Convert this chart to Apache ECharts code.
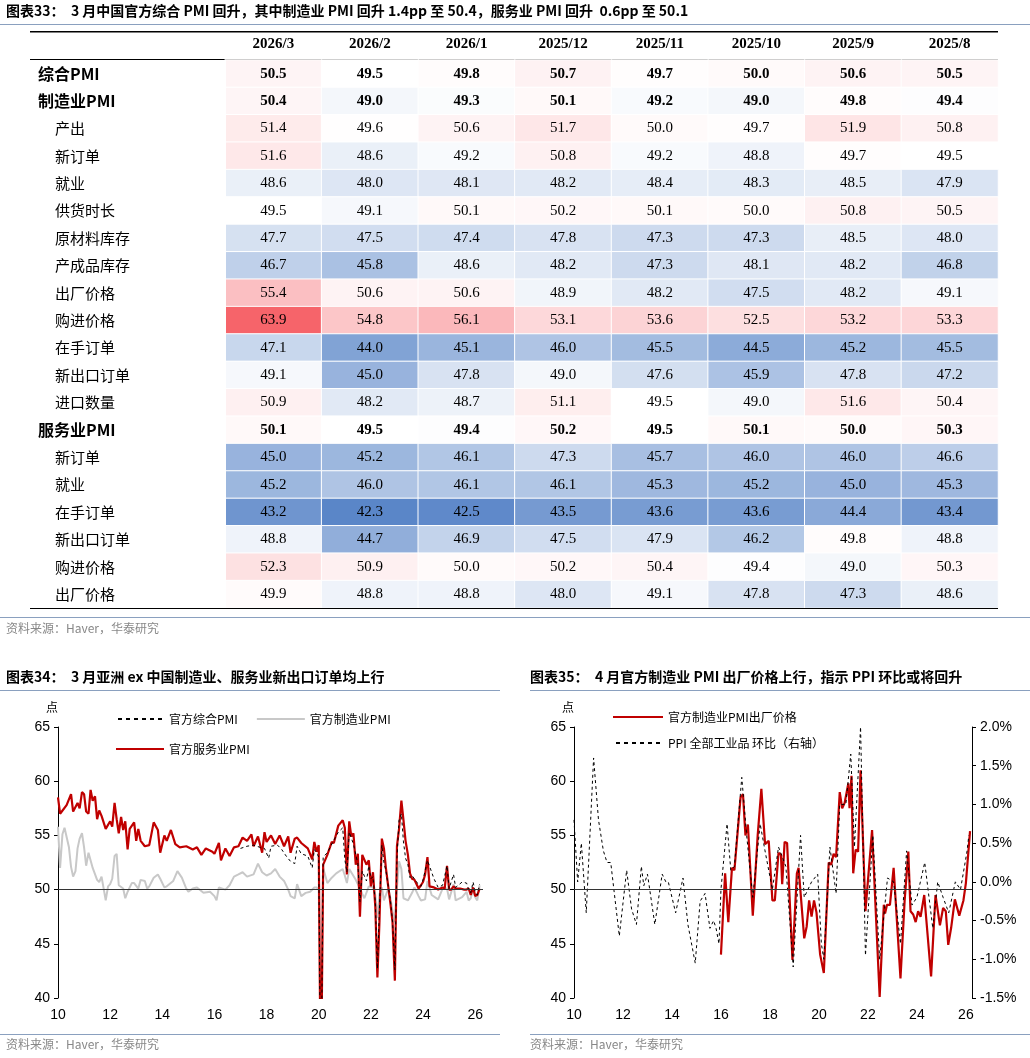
<!DOCTYPE html>
<html><head><meta charset="utf-8">
<script src="https://cdn.jsdelivr.net/npm/echarts@6/dist/echarts.min.js"></script>
<style>body{margin:0;background:#fff}#c{width:1030px;height:1058px}</style></head>
<body><div id="c"></div>
<script>
const columns=['2026/3','2026/2','2026/1','2025/12','2025/11','2025/10','2025/9','2025/8'];
const rowNames=['综合PMI','制造业PMI','产出','新订单','就业','供货时长','原材料库存','产成品库存','出厂价格','购进价格','在手订单','新出口订单','进口数量','服务业PMI','新订单','就业','在手订单','新出口订单','购进价格','出厂价格'];
const boldRows=[0,1,13];
const tableValues=[
[50.5,49.5,49.8,50.7,49.7,50.0,50.6,50.5],
[50.4,49.0,49.3,50.1,49.2,49.0,49.8,49.4],
[51.4,49.6,50.6,51.7,50.0,49.7,51.9,50.8],
[51.6,48.6,49.2,50.8,49.2,48.8,49.7,49.5],
[48.6,48.0,48.1,48.2,48.4,48.3,48.5,47.9],
[49.5,49.1,50.1,50.2,50.1,50.0,50.8,50.5],
[47.7,47.5,47.4,47.8,47.3,47.3,48.5,48.0],
[46.7,45.8,48.6,48.2,47.3,48.1,48.2,46.8],
[55.4,50.6,50.6,48.9,48.2,47.5,48.2,49.1],
[63.9,54.8,56.1,53.1,53.6,52.5,53.2,53.3],
[47.1,44.0,45.1,46.0,45.5,44.5,45.2,45.5],
[49.1,45.0,47.8,49.0,47.6,45.9,47.8,47.2],
[50.9,48.2,48.7,51.1,49.5,49.0,51.6,50.4],
[50.1,49.5,49.4,50.2,49.5,50.1,50.0,50.3],
[45.0,45.2,46.1,47.3,45.7,46.0,46.0,46.6],
[45.2,46.0,46.1,46.1,45.3,45.2,45.0,45.3],
[43.2,42.3,42.5,43.5,43.6,43.6,44.4,43.4],
[48.8,44.7,46.9,47.5,47.9,46.2,49.8,48.8],
[52.3,50.9,50.0,50.2,50.4,49.4,49.0,50.3],
[49.9,48.8,48.8,48.0,49.1,47.8,47.3,48.6]];

const servicesPMI=[[2010.0,58.5],[2010.08,57.0],[2010.33,57.8],[2010.5,58.8],[2010.58,57.2],[2010.75,58.0],[2010.83,57.5],[2010.92,59.0],[2011.0,58.8],[2011.08,57.2],[2011.17,57.0],[2011.25,59.2],[2011.33,58.2],[2011.42,58.6],[2011.5,56.5],[2011.58,57.3],[2011.67,56.8],[2011.83,55.6],[2012.0,56.3],[2012.08,55.8],[2012.17,58.0],[2012.25,56.5],[2012.33,55.2],[2012.42,56.7],[2012.5,55.5],[2012.58,56.3],[2012.67,53.7],[2012.75,55.6],[2012.92,56.2],[2013.0,54.5],[2013.08,55.6],[2013.17,54.5],[2013.33,54.0],[2013.5,54.1],[2013.67,56.2],[2013.83,55.5],[2013.92,53.4],[2014.08,55.0],[2014.17,54.5],[2014.33,55.5],[2014.5,54.2],[2014.67,53.9],[2014.92,54.0],[2015.17,53.7],[2015.33,53.9],[2015.5,53.2],[2015.67,53.8],[2015.92,53.5],[2016.0,53.3],[2016.17,54.3],[2016.25,52.7],[2016.42,53.8],[2016.58,53.1],[2016.75,53.9],[2016.92,54.0],[2017.08,54.8],[2017.25,54.5],[2017.42,55.1],[2017.5,54.0],[2017.67,54.9],[2017.83,53.4],[2017.92,55.3],[2018.0,54.4],[2018.17,55.0],[2018.33,54.2],[2018.5,55.0],[2018.67,54.0],[2018.83,54.9],[2018.92,53.4],[2019.08,54.7],[2019.17,54.8],[2019.33,54.3],[2019.58,53.8],[2019.75,52.8],[2019.83,54.4],[2019.92,53.5],[2020.0,54.1],[2020.08,30.1],[2020.17,52.3],[2020.33,53.2],[2020.5,54.4],[2020.58,54.3],[2020.75,55.9],[2020.92,56.4],[2021.0,55.7],[2021.08,51.4],[2021.17,56.3],[2021.25,54.9],[2021.33,55.2],[2021.42,52.3],[2021.5,53.3],[2021.58,47.5],[2021.67,53.2],[2021.83,52.3],[2021.92,52.7],[2022.0,50.3],[2022.08,51.6],[2022.17,48.4],[2022.25,41.9],[2022.33,47.1],[2022.42,54.7],[2022.5,53.8],[2022.58,51.9],[2022.75,48.7],[2022.83,47.0],[2022.92,41.6],[2023.0,54.0],[2023.08,55.6],[2023.17,58.2],[2023.25,56.4],[2023.33,54.5],[2023.42,53.2],[2023.5,51.5],[2023.58,51.0],[2023.67,50.9],[2023.83,50.1],[2023.92,50.4],[2024.0,50.7],[2024.08,51.4],[2024.17,53.0],[2024.25,50.3],[2024.42,50.2],[2024.58,50.0],[2024.75,50.2],[2024.83,50.1],[2024.92,52.2],[2025.0,50.0],[2025.08,50.0],[2025.17,50.3],[2025.25,50.1],[2025.42,50.1],[2025.58,50.0],[2025.67,50.0],[2025.75,50.1],[2025.83,49.5],[2025.92,50.2],[2026.0,49.4],[2026.08,49.5],[2026.17,50.1]];
const compositePMI=[[2017.0,53.8],[2017.25,54.0],[2017.5,54.1],[2017.75,53.9],[2017.92,53.8],[2018.08,52.9],[2018.17,54.0],[2018.42,54.1],[2018.58,53.7],[2018.75,53.1],[2018.92,52.6],[2019.08,52.4],[2019.17,54.0],[2019.33,53.3],[2019.58,53.1],[2019.75,52.0],[2019.83,53.7],[2019.92,53.4],[2020.0,53.0],[2020.08,28.9],[2020.17,53.0],[2020.33,53.4],[2020.5,54.2],[2020.75,55.3],[2020.92,55.7],[2021.0,52.8],[2021.08,51.6],[2021.17,55.3],[2021.33,54.2],[2021.5,52.4],[2021.58,48.9],[2021.67,51.7],[2021.83,50.8],[2021.92,52.2],[2022.0,51.0],[2022.08,51.2],[2022.17,48.8],[2022.25,42.7],[2022.33,48.4],[2022.42,54.1],[2022.5,52.5],[2022.58,51.7],[2022.75,49.0],[2022.83,47.1],[2022.92,42.6],[2023.0,52.9],[2023.08,56.4],[2023.17,57.0],[2023.25,54.4],[2023.33,52.9],[2023.42,52.3],[2023.5,51.1],[2023.58,51.3],[2023.75,50.7],[2023.92,50.3],[2024.0,50.9],[2024.17,52.7],[2024.42,51.0],[2024.58,50.2],[2024.75,50.4],[2024.92,52.2],[2025.0,50.1],[2025.17,51.4],[2025.25,50.2],[2025.5,50.7],[2025.67,50.6],[2025.75,50.0],[2025.83,49.7],[2025.92,50.7],[2026.0,49.8],[2026.08,49.5],[2026.17,50.5]];
const manufPMI=[[2010.0,55.8],[2010.08,52.0],[2010.17,55.1],[2010.25,55.7],[2010.42,53.9],[2010.5,52.1],[2010.58,51.2],[2010.67,51.7],[2010.75,53.8],[2010.83,54.7],[2010.92,55.2],[2011.0,53.9],[2011.08,52.2],[2011.17,53.4],[2011.33,52.0],[2011.5,50.9],[2011.58,50.7],[2011.67,51.2],[2011.83,49.0],[2011.92,50.3],[2012.0,50.5],[2012.08,51.0],[2012.17,53.1],[2012.25,53.3],[2012.33,50.4],[2012.5,50.1],[2012.58,49.2],[2012.67,49.8],[2012.83,50.6],[2012.92,50.6],[2013.08,50.1],[2013.17,50.9],[2013.33,50.8],[2013.42,50.1],[2013.5,50.3],[2013.67,51.1],[2013.83,51.4],[2013.92,51.0],[2014.08,50.2],[2014.17,50.3],[2014.42,50.8],[2014.58,51.7],[2014.75,51.1],[2014.92,50.1],[2015.0,49.8],[2015.17,50.1],[2015.33,50.2],[2015.58,49.7],[2015.83,49.8],[2016.0,49.4],[2016.08,49.0],[2016.17,50.2],[2016.42,50.0],[2016.58,50.4],[2016.75,51.2],[2016.92,51.4],[2017.08,51.6],[2017.25,51.2],[2017.5,51.4],[2017.67,52.4],[2017.83,51.6],[2018.0,51.3],[2018.17,51.5],[2018.33,51.9],[2018.5,51.2],[2018.67,50.8],[2018.83,50.0],[2018.92,49.4],[2019.08,49.2],[2019.17,50.5],[2019.33,49.4],[2019.5,49.7],[2019.67,49.8],[2019.83,50.2],[2019.92,50.2],[2020.0,50.0],[2020.08,35.7],[2020.17,52.0],[2020.33,50.6],[2020.5,51.1],[2020.67,51.5],[2020.92,51.9],[2021.0,51.3],[2021.08,50.6],[2021.17,51.9],[2021.42,50.9],[2021.58,50.1],[2021.67,49.6],[2021.75,49.2],[2021.92,50.3],[2022.08,50.2],[2022.17,49.5],[2022.25,47.4],[2022.33,49.6],[2022.42,50.2],[2022.5,49.0],[2022.67,50.1],[2022.75,49.2],[2022.83,48.0],[2022.92,47.0],[2023.0,50.1],[2023.08,52.6],[2023.17,51.9],[2023.25,49.2],[2023.42,49.0],[2023.58,49.7],[2023.67,50.2],[2023.83,49.4],[2023.92,49.0],[2024.08,49.1],[2024.17,50.8],[2024.33,49.5],[2024.58,49.1],[2024.75,50.1],[2024.92,50.1],[2025.0,49.1],[2025.17,50.5],[2025.25,49.0],[2025.5,49.3],[2025.67,49.8],[2025.75,49.0],[2025.83,49.2],[2025.92,50.1],[2026.0,49.3],[2026.08,49.0],[2026.17,50.4]];
const pmiOutputPrice=[[2016.0,44.0],[2016.17,51.5],[2016.3,47.0],[2016.45,52.0],[2016.55,51.8],[2016.8,58.5],[2016.9,58.8],[2017.0,55.0],[2017.1,56.0],[2017.3,47.6],[2017.5,55.0],[2017.65,59.3],[2017.8,54.2],[2017.95,54.5],[2018.1,49.0],[2018.2,49.0],[2018.35,53.4],[2018.45,53.2],[2018.5,50.5],[2018.6,54.4],[2018.7,54.3],[2018.92,43.5],[2019.1,51.5],[2019.17,52.0],[2019.4,45.5],[2019.5,46.6],[2019.6,49.0],[2019.7,47.5],[2019.8,49.0],[2019.9,47.9],[2020.05,44.0],[2020.2,42.3],[2020.4,52.5],[2020.5,52.3],[2020.6,53.3],[2020.7,53.0],[2020.85,59.0],[2020.95,57.5],[2021.05,58.0],[2021.2,59.8],[2021.25,57.5],[2021.33,60.5],[2021.4,51.5],[2021.5,53.7],[2021.6,53.5],[2021.7,61.0],[2021.9,48.0],[2022.17,55.5],[2022.3,49.0],[2022.48,40.1],[2022.65,48.6],[2022.7,47.8],[2022.78,48.6],[2022.9,48.6],[2023.05,52.0],[2023.33,41.8],[2023.5,49.0],[2023.65,53.5],[2023.74,48.0],[2023.85,47.7],[2023.95,47.0],[2024.05,48.0],[2024.15,47.5],[2024.3,49.5],[2024.58,42.0],[2024.76,49.5],[2024.94,46.7],[2025.07,48.3],[2025.18,48.0],[2025.28,44.9],[2025.4,46.5],[2025.55,49.1],[2025.73,47.6],[2025.9,49.0],[2026.0,50.6],[2026.08,50.6],[2026.17,55.4]];
const ppiMoM=[[2010.0,0.8],[2010.15,0.0],[2010.3,0.5],[2010.5,-0.4],[2010.8,1.6],[2011.0,0.8],[2011.2,0.4],[2011.35,0.25],[2011.5,0.25],[2011.85,-0.7],[2012.15,0.15],[2012.35,-0.35],[2012.55,-0.55],[2012.75,0.2],[2012.85,-0.05],[2013.0,0.1],[2013.3,-0.55],[2013.6,0.1],[2013.75,0.0],[2013.85,0.0],[2014.15,-0.4],[2014.45,0.05],[2014.65,-0.55],[2014.95,-1.05],[2015.15,-0.25],[2015.35,-0.15],[2015.55,-0.6],[2015.7,-0.5],[2015.8,-0.6],[2015.92,-0.8],[2016.0,-0.1],[2016.25,0.75],[2016.4,0.15],[2016.55,0.2],[2016.85,1.35],[2017.05,0.6],[2017.3,-0.2],[2017.6,0.75],[2017.8,0.4],[2018.1,-0.1],[2018.35,0.45],[2018.65,0.2],[2018.95,-1.1],[2019.25,0.6],[2019.4,-0.2],[2019.7,0.0],[2019.95,0.1],[2020.1,-0.8],[2020.2,-1.0],[2020.45,0.45],[2020.7,-0.15],[2020.85,1.0],[2021.1,1.0],[2021.3,1.65],[2021.45,0.45],[2021.7,2.0],[2021.9,-0.95],[2022.2,0.6],[2022.48,-1.0],[2022.8,0.05],[2023.05,0.0],[2023.33,-0.8],[2023.58,0.4],[2023.8,-0.3],[2024.0,-0.2],[2024.32,0.25],[2024.65,-0.6],[2024.85,0.0],[2025.07,-0.2],[2025.3,-0.4],[2025.57,0.0],[2025.78,-0.1],[2026.05,0.4],[2026.12,0.6]];
const leftTicks=[40,45,50,55,60,65];
const rightTicks=[-1.5,-1.0,-0.5,0.0,0.5,1.0,1.5,2.0];

function mix(a,b,t){const p=h=>[1,3,5].map(i=>parseInt(h.substr(i,2),16));const A=p(a),B=p(b);return 'rgb('+A.map((x,i)=>Math.round(x+(B[i]-x)*t)).join(',')+')';}
function cellColor(v){if(v<49.5)return mix('#ffffff','#5a86c8',Math.min(1,(49.5-v)/7.2));return mix('#ffffff','#f6646a',Math.min(1,(v-49.5)/14.4));}
const heatData=[];
tableValues.forEach((r,ri)=>r.forEach((v,ci)=>heatData.push({value:[ci,ri,v],itemStyle:{color:cellColor(v)},label:{fontWeight:boldRows.includes(ri)?'bold':'normal'}})));

const SANS='Liberation Sans, Noto Sans CJK SC, sans-serif';
const CJK='Noto Sans CJK SC, sans-serif';
const yr=v=>String(Math.round(v)%100).padStart(2,'0');
const chart=echarts.init(document.getElementById('c'));
const lineX=(gi)=>({type:'value',gridIndex:gi,min:2010,max:gi==1?2026.3:2026.25,interval:2,axisLine:{show:false},axisTick:{show:false},splitLine:{show:false},axisLabel:{formatter:yr,fontSize:14,color:'#000',fontFamily:SANS,showMaxLabel:false,margin:10}});
const lineY=(gi)=>({type:'value',gridIndex:gi,min:40,max:65,interval:5,name:'点',nameGap:14,nameTextStyle:{fontFamily:CJK,fontSize:12,color:'#000',align:'right'},axisLine:{show:true,lineStyle:{color:'#000'}},axisTick:{show:true,length:4,lineStyle:{color:'#000'}},splitLine:{show:false},axisLabel:{fontSize:14,color:'#000',fontFamily:SANS}});
const ml={silent:true,symbol:'none',label:{show:false},lineStyle:{color:'#333',type:'solid',width:1},data:[{yAxis:50}]};
chart.setOption({
 animation:false,
 grid:[{left:225,right:32,top:60,height:548},{left:58,right:547,top:727,height:271},{left:574,right:58,top:727,height:271}],
 xAxis:[{type:'category',gridIndex:0,data:columns,position:'top',axisLine:{show:false},axisTick:{show:false},splitLine:{show:false},axisLabel:{fontFamily:'Liberation Serif',fontWeight:'bold',fontSize:15,color:'#000',margin:8}},lineX(1),lineX(2)],
 yAxis:[{type:'category',gridIndex:0,data:rowNames,inverse:true,axisLine:{show:false},axisTick:{show:false},splitLine:{show:false},axisLabel:{align:'left',margin:187,formatter:(v,i)=>boldRows.includes(i)?'{b|'+v+'}':'{n|'+v+'}',rich:{b:{fontFamily:CJK,fontWeight:'bold',fontSize:16,color:'#000'},n:{fontFamily:CJK,fontSize:15,color:'#000',padding:[0,0,0,17]}}}},
  lineY(1),lineY(2),
  {type:'value',gridIndex:2,position:'right',min:-1.5,max:2.0,interval:0.5,axisLine:{show:true,lineStyle:{color:'#000'}},axisTick:{show:true,length:4,lineStyle:{color:'#000'}},splitLine:{show:false},axisLabel:{formatter:v=>v.toFixed(1)+'%',fontSize:14,color:'#000',fontFamily:SANS}}],
 legend:[{top:708,left:110,itemWidth:48,itemHeight:2,itemGap:18,width:380,textStyle:{fontFamily:CJK,fontSize:12,color:'#000'},data:[{name:'官方综合PMI',icon:'path://M0,0h4v2h-4z M8,0h4v2h-4z M16,0h4v2h-4z M24,0h4v2h-4z M32,0h4v2h-4z M40,0h4v2h-4z'},{name:'官方制造业PMI'},{name:'官方服务业PMI'}]},
  {top:706,left:607,orient:'vertical',itemWidth:50,itemHeight:2,itemGap:14,textStyle:{fontFamily:CJK,fontSize:12,color:'#000'},data:[{name:'官方制造业PMI出厂价格'},{name:'PPI 全部工业品 环比（右轴）',icon:'path://M0,0h4v2h-4z M8,0h4v2h-4z M16,0h4v2h-4z M24,0h4v2h-4z M32,0h4v2h-4z M40,0h4v2h-4z'}]}],
 series:[
  {type:'heatmap',xAxisIndex:0,yAxisIndex:0,data:heatData,itemStyle:{borderColor:'#fff',borderWidth:1},label:{show:true,formatter:p=>p.value[2].toFixed(1),fontFamily:'Liberation Serif',fontSize:15,color:'#000'}},
  {name:'官方综合PMI',type:'line',xAxisIndex:1,yAxisIndex:1,data:compositePMI,symbol:'none',color:'#000',lineStyle:{width:1,type:[3,3],color:'#000'},z:3},
  {name:'官方制造业PMI',type:'line',xAxisIndex:1,yAxisIndex:1,data:manufPMI,symbol:'none',color:'#c8c8c8',lineStyle:{width:2,color:'#c8c8c8'},z:1},
  {name:'官方服务业PMI',type:'line',xAxisIndex:1,yAxisIndex:1,data:servicesPMI,symbol:'none',color:'#c00000',lineStyle:{width:2.2,color:'#c00000'},z:2,markLine:ml,clip:true},
  {name:'官方制造业PMI出厂价格',type:'line',xAxisIndex:2,yAxisIndex:2,data:pmiOutputPrice,symbol:'none',color:'#c00000',lineStyle:{width:2.2,color:'#c00000'},z:2,markLine:ml},
  {name:'PPI 全部工业品 环比（右轴）',type:'line',xAxisIndex:2,yAxisIndex:3,data:ppiMoM,symbol:'none',color:'#000',lineStyle:{width:1,type:[3,3],color:'#000'},z:3}
 ],
 graphic:[
  {type:'text',left:6,top:4,style:{text:'图表33：  3 月中国官方综合 PMI 回升，其中制造业 PMI 回升 1.4pp 至 50.4，服务业 PMI 回升  0.6pp 至 50.1',font:'bold 14px Noto Sans CJK SC',fill:'#000'}},
  {type:'rect',z:100,shape:{x:223,y:60,width:3,height:548},style:{fill:'#fff'}},
  {type:'rect',shape:{x:0,y:24,width:1030,height:1},style:{fill:'#8aa0bf'}},
  {type:'rect',shape:{x:30,y:31,width:968,height:1.5},style:{fill:'#000'}},
  {type:'rect',shape:{x:30,y:59,width:968,height:1},style:{fill:'#000'}},
  {type:'rect',z:101,shape:{x:30,y:608,width:968,height:1},style:{fill:'#000'}},
  {type:'rect',shape:{x:0,y:617,width:1030,height:1},style:{fill:'#8aa0bf'}},
  {type:'text',left:6,top:622,style:{text:'资料来源：Haver，华泰研究',font:'12px Noto Sans CJK SC',fill:'#888'}},
  {type:'text',left:6,top:670,style:{text:'图表34：  3 月亚洲 ex 中国制造业、服务业新出口订单均上行',font:'bold 14px Noto Sans CJK SC',fill:'#000'}},
  {type:'rect',shape:{x:0,y:690,width:500,height:1},style:{fill:'#8aa0bf'}},
  {type:'text',left:530,top:670,style:{text:'图表35：  4 月官方制造业 PMI 出厂价格上行，指示 PPI 环比或将回升',font:'bold 14px Noto Sans CJK SC',fill:'#000'}},
  {type:'rect',shape:{x:530,y:690,width:500,height:1},style:{fill:'#8aa0bf'}},
  {type:'rect',shape:{x:0,y:1034,width:500,height:1},style:{fill:'#8aa0bf'}},
  {type:'rect',shape:{x:530,y:1034,width:500,height:1},style:{fill:'#8aa0bf'}},
  {type:'text',left:6,top:1038,style:{text:'资料来源：Haver，华泰研究',font:'12px Noto Sans CJK SC',fill:'#888'}},
  {type:'text',left:530,top:1038,style:{text:'资料来源：Haver，华泰研究',font:'12px Noto Sans CJK SC',fill:'#888'}}
 ]
});
</script></body></html>
